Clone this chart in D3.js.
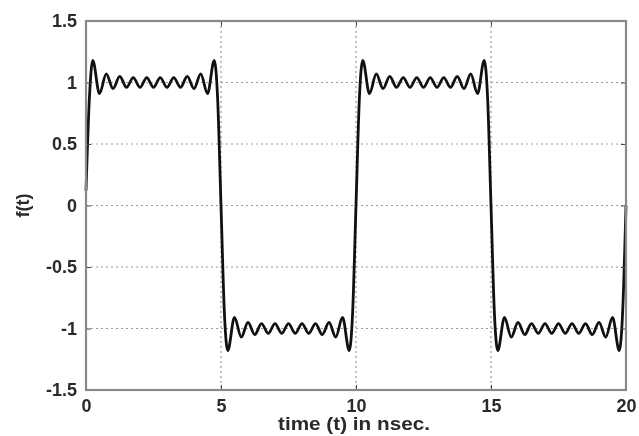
<!DOCTYPE html>
<html><head><meta charset="utf-8">
<script src="https://cdnjs.cloudflare.com/ajax/libs/d3/7.8.5/d3.min.js"></script>
<style>body{margin:0;background:#fff}svg{display:block;filter:blur(0.4px)}</style>
</head><body>
<svg id="c" width="639" height="436"></svg>
<script>
const xTicks = [0, 5, 10, 15, 20];
const yTicks = [-1.5, -1, -0.5, 0, 0.5, 1, 1.5];
const yTickLabels = ["-1.5", "-1", "-0.5", "0", "0.5", "1", "1.5"];
const xLabel = "time (t) in nsec.";
const yLabel = "f(t)";
const timeNs = [
  0, 0.125, 0.25, 0.5, 0.75, 1, 1.25, 1.5, 1.75, 2, 2.25, 2.5, 2.75, 3, 3.25, 3.5, 3.75, 4, 4.25, 4.5, 4.75, 4.875,
  5, 5.125, 5.25, 5.5, 5.75, 6, 6.25, 6.5, 6.75, 7, 7.25, 7.5, 7.75, 8, 8.25, 8.5, 8.75, 9, 9.25, 9.5, 9.75, 9.875,
  10, 10.125, 10.25, 10.5, 10.75, 11, 11.25, 11.5, 11.75, 12, 12.25, 12.5, 12.75, 13, 13.25, 13.5, 13.75, 14, 14.25, 14.5, 14.75, 14.875,
  15, 15.125, 15.25, 15.5, 15.75, 16, 16.25, 16.5, 16.75, 17, 17.25, 17.5, 17.75, 18, 18.25, 18.5, 18.75, 19, 19.25, 19.5, 19.75, 19.875,
  20
];
const fValue = [
  0.12, 0.87, 1.18, 0.91, 1.07, 0.95, 1.05, 0.96, 1.04, 0.96, 1.04, 0.96, 1.04, 0.96, 1.04, 0.96, 1.05, 0.95, 1.07, 0.91, 1.18, 0.87,
  0, -0.87, -1.18, -0.91, -1.07, -0.95, -1.05, -0.96, -1.04, -0.96, -1.04, -0.96, -1.04, -0.96, -1.04, -0.96, -1.05, -0.95, -1.07, -0.91, -1.18, -0.87,
  0, 0.87, 1.18, 0.91, 1.07, 0.95, 1.05, 0.96, 1.04, 0.96, 1.04, 0.96, 1.04, 0.96, 1.04, 0.96, 1.05, 0.95, 1.07, 0.91, 1.18, 0.87,
  0, -0.87, -1.18, -0.91, -1.07, -0.95, -1.05, -0.96, -1.04, -0.96, -1.04, -0.96, -1.04, -0.96, -1.04, -0.96, -1.05, -0.95, -1.07, -0.91, -1.18, -0.87,
  0
];

const L = 86, R = 626, T = 21, B = 390;
const x = d3.scaleLinear().domain([0, 20]).range([L, R]);
const y = d3.scaleLinear().domain([-1.5, 1.5]).range([B, T]);
const svg = d3.select("#c");
const font = "Arial, 'Liberation Sans', sans-serif";

// grid
const g = svg.append("g");
g.selectAll("line.gx").data(xTicks.filter(d => d > 0 && d < 20)).join("line")
  .attr("x1", d => x(d)).attr("x2", d => x(d)).attr("y1", T).attr("y2", B)
  .attr("stroke", "#9a9a9a").attr("stroke-width", 1.2).attr("stroke-dasharray", "2,3");
g.selectAll("line.gy").data(yTicks.filter(d => d > -1.5 && d < 1.5)).join("line")
  .attr("y1", d => y(d)).attr("y2", d => y(d)).attr("x1", L).attr("x2", R)
  .attr("stroke", "#9a9a9a").attr("stroke-width", 1.2).attr("stroke-dasharray", "2,3");

// line
const pts = timeNs.map((t, i) => [t, fValue[i]]);
svg.append("path").datum(pts)
  .attr("fill", "none").attr("stroke", "#111").attr("stroke-width", 2.8)
  .attr("stroke-linejoin", "round")
  .attr("d", d3.line().x(d => x(d[0])).y(d => y(d[1])).curve(d3.curveMonotoneX));

// axes (inward ticks, no domain)
const axB = d3.axisBottom(x).tickValues(xTicks).tickSize(-5).tickPadding(9).tickFormat(d3.format("d"));
const axL = d3.axisLeft(y).tickValues(yTicks).tickSize(-5).tickPadding(9).tickFormat((d, i) => yTickLabels[i]);
const axT = d3.axisTop(x).tickValues(xTicks).tickSize(-5).tickFormat("");
const axR = d3.axisRight(y).tickValues(yTicks).tickSize(-5).tickFormat("");
[[axB, `translate(0,${B})`], [axL, `translate(${L},0)`], [axT, `translate(0,${T})`], [axR, `translate(${R},0)`]].forEach(([a, tr]) => {
  const ag = svg.append("g").attr("transform", tr).call(a);
  ag.select(".domain").remove();
  ag.selectAll(".tick line").attr("stroke", "#444").attr("stroke-width", 1);
  ag.selectAll("text").attr("font-family", font).attr("font-size", 18).attr("font-weight", "bold").attr("fill", "#2a2a2a");
});

// frame
svg.append("rect").attr("x", L).attr("y", T).attr("width", R - L).attr("height", B - T)
  .attr("fill", "none").attr("stroke", "#8a8a8a").attr("stroke-width", 2.2);

svg.append("text").attr("x", 354).attr("y", 430).attr("text-anchor", "middle")
  .attr("font-family", font).attr("font-size", 18).attr("font-weight", "bold").attr("fill", "#2a2a2a")
  .attr("textLength", 152).attr("lengthAdjust", "spacingAndGlyphs").text(xLabel);
svg.append("text").attr("transform", `translate(29,${y(0)}) rotate(-90)`).attr("text-anchor", "middle")
  .attr("font-family", font).attr("font-size", 18).attr("font-weight", "bold").attr("fill", "#2a2a2a").text(yLabel);
</script>
</body></html>
